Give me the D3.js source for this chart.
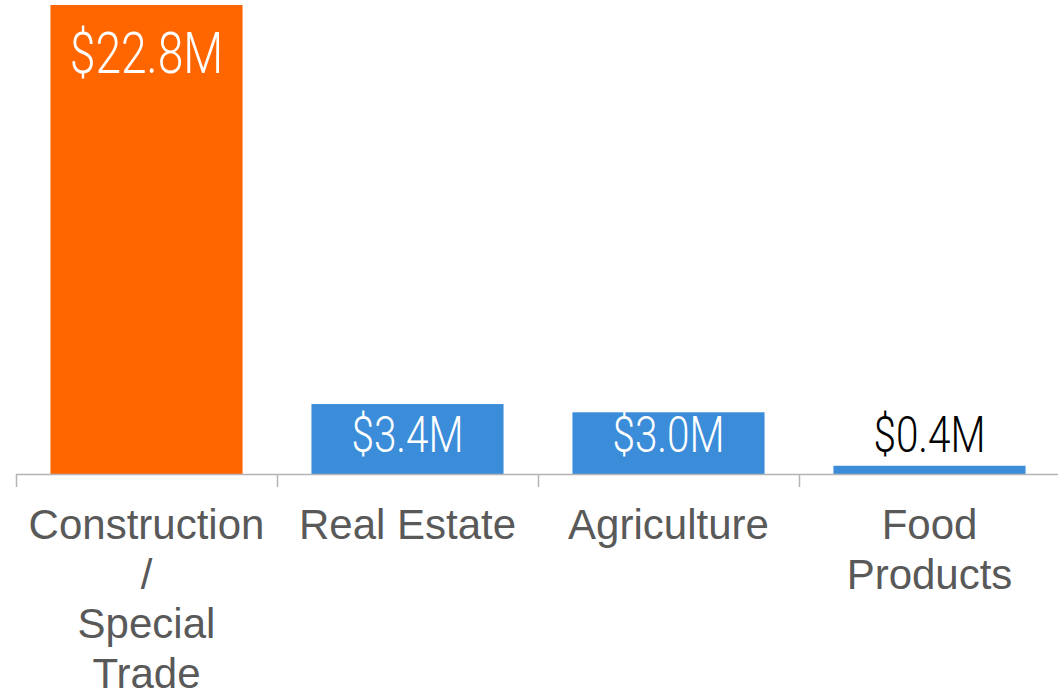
<!DOCTYPE html>
<html>
<head>
<meta charset="utf-8">
<script src="https://cdn.jsdelivr.net/npm/d3@7"></script>
<style>
  html, body { margin: 0; padding: 0; background: #fff; }
  svg { display: block; }
</style>
</head>
<body>
<svg id="chart" width="1058" height="689"></svg>
<script>
const categories = ["Construction\n/\nSpecial\nTrade", "Real Estate", "Agriculture", "Food\nProducts"];
const values = [22.8, 3.4, 3.0, 0.4];
const valueLabels = ["$22.8M", "$3.4M", "$3.0M", "$0.4M"];
const highlight = [true, false, false, false];

const svg = d3.select("#chart");

const x = d3.scaleBand()
  .domain(categories)
  .range([16, 1060])
  .paddingInner(0.264)
  .paddingOuter(0.132);

const y = d3.scaleLinear()
  .domain([0, 22.8])
  .range([474, 5]);

const orange = "#FF6600", blue = "#3B8CD9";

// bars
svg.append("g").selectAll("rect")
  .data(values)
  .join("rect")
  .attr("x", (d, i) => x(categories[i]))
  .attr("y", d => y(d))
  .attr("width", x.bandwidth())
  .attr("height", d => y(0) - y(d))
  .attr("fill", (d, i) => highlight[i] ? orange : blue);

// axis line and ticks at band boundaries
const axisG = svg.append("g");
axisG.append("line")
  .attr("x1", x.range()[0]).attr("x2", x.range()[1])
  .attr("y1", y(0) + 0.5).attr("y2", y(0) + 0.5)
  .attr("stroke", "#b4b4b4").attr("stroke-width", 1.5);
const step = x.step();
const tickPos = [x.range()[0]]
  .concat(categories.slice(1).map(c => x(c) - step * x.paddingInner() / 2))
  .concat([x.range()[1]]);
axisG.selectAll("line.tick")
  .data(tickPos)
  .join("line")
  .attr("class", "tick")
  .attr("x1", d => Math.round(d) + 0.5).attr("x2", d => Math.round(d) + 0.5)
  .attr("y1", y(0)).attr("y2", y(0) + 13)
  .attr("stroke", "#b4b4b4").attr("stroke-width", 1.5);

// value labels
svg.append("g").selectAll("text")
  .data(values)
  .join("text")
  .attr("transform", (d, i) => {
    const cx = x(categories[i]) + x.bandwidth() / 2;
    const by = Math.min(y(d) + 68, y(0) - 22);
    return `translate(${cx},${by}) scale(0.81,1)`;
  })
  .attr("text-anchor", "middle")
  .attr("font-family", "Roboto, sans-serif")
  .attr("font-weight", 300)
  .attr("font-size", d => (y(0) - y(d)) > 150 ? 57 : 50)
  .attr("fill", d => (y(0) - y(d)) > 40 ? "#ffffff" : "#000000")
  .text((d, i) => valueLabels[i]);

// category labels
const catG = svg.append("g");
categories.forEach((c, i) => {
  const lines = c.split("\n");
  const t = catG.append("text")
    .attr("text-anchor", "middle")
    .attr("font-family", "'Liberation Sans', Arial, sans-serif")
    .attr("font-size", 42)
    .attr("fill", "#595959");
  lines.forEach((ln, j) => {
    t.append("tspan")
      .attr("x", x(c) + x.bandwidth() / 2)
      .attr("y", 539 + j * 49.7)
      .text(ln);
  });
});
</script>
</body>
</html>
